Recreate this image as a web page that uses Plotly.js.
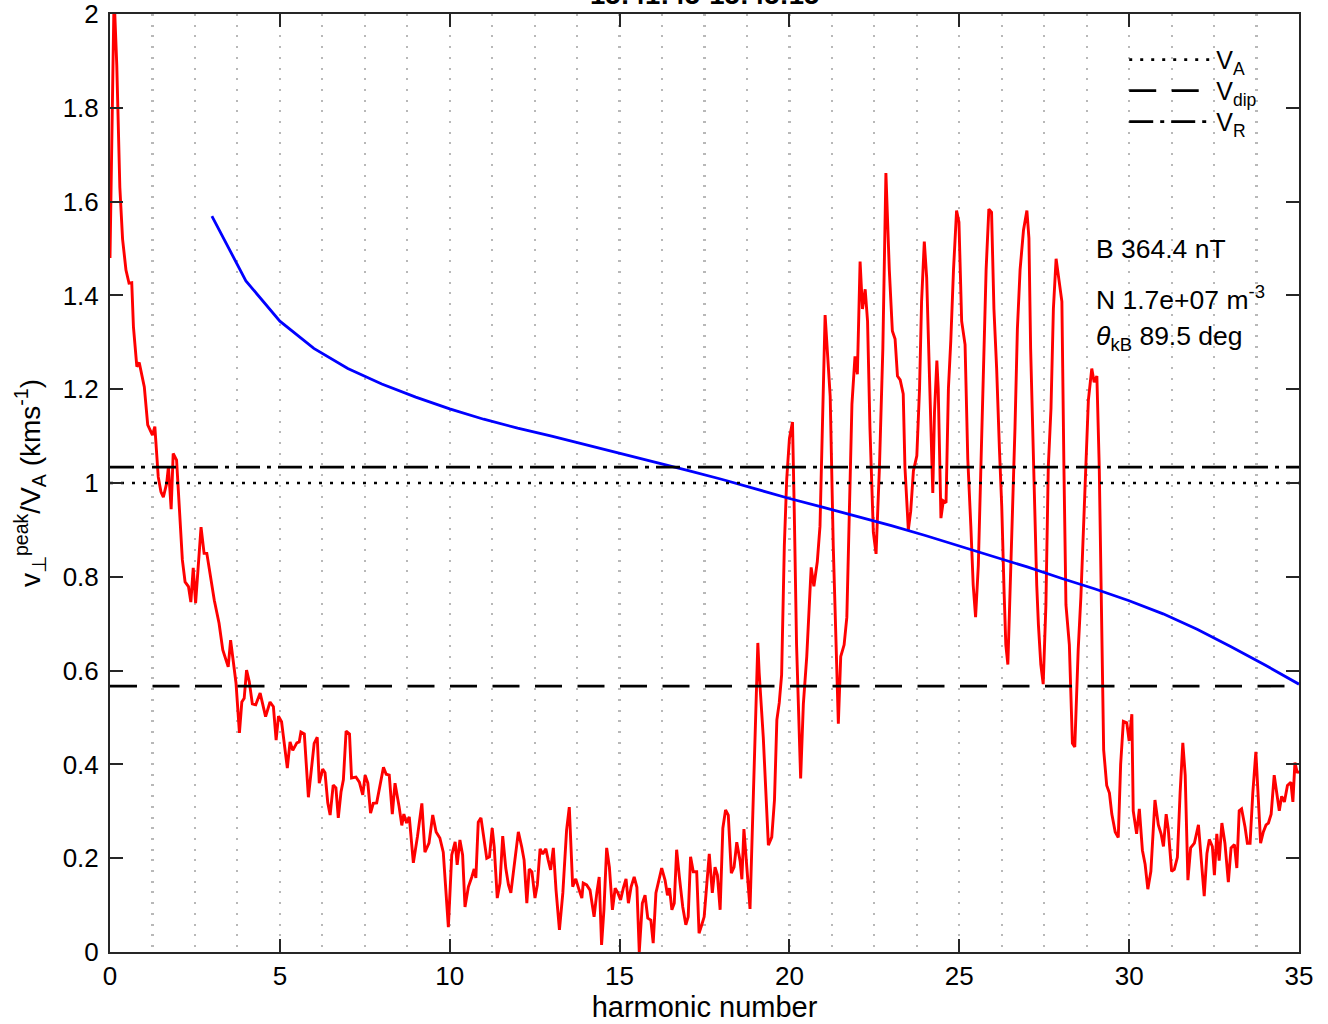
<!DOCTYPE html>
<html>
<head>
<meta charset="utf-8">
<script src="https://cdn.plot.ly/plotly-3.0.1.min.js"></script>
<style>html,body{margin:0;padding:0;background:#fff;}</style>
</head>
<body>
<div id="chart" style="width:1328px;height:1024px;"></div>
<script>
// ---- data ----
const harmonicRed = [0.0,0.12,0.2,0.29,0.37,0.47,0.56,0.64,0.69,0.79,0.86,1.01,1.11,1.25,1.32,1.42,1.50,1.57,1.67,1.72,1.80,1.86,1.96,2.06,2.13,2.21,2.31,2.38,2.45,2.52,2.68,2.77,2.85,3.07,3.21,3.32,3.48,3.55,3.71,3.81,3.88,3.95,4.02,4.10,4.19,4.29,4.42,4.58,4.71,4.81,4.89,4.96,5.05,5.22,5.30,5.38,5.50,5.57,5.62,5.72,5.84,6.01,6.10,6.16,6.26,6.33,6.41,6.48,6.57,6.65,6.72,6.80,6.87,6.95,7.05,7.11,7.24,7.34,7.44,7.51,7.59,7.67,7.75,7.85,8.05,8.13,8.22,8.31,8.39,8.51,8.59,8.65,8.73,8.81,8.93,9.05,9.18,9.27,9.39,9.50,9.60,9.71,9.81,9.96,10.06,10.16,10.22,10.30,10.38,10.45,10.55,10.65,10.72,10.77,10.84,10.92,11.01,11.09,11.17,11.25,11.31,11.40,11.48,11.56,11.65,11.73,11.80,11.90,12.02,12.12,12.19,12.27,12.34,12.42,12.51,12.58,12.66,12.74,12.83,12.90,12.97,13.05,13.13,13.23,13.33,13.44,13.52,13.62,13.71,13.81,13.89,13.93,14.03,14.13,14.25,14.33,14.40,14.47,14.54,14.62,14.70,14.79,14.87,14.95,15.03,15.11,15.19,15.26,15.34,15.43,15.51,15.58,15.67,15.75,15.83,15.92,15.99,16.07,16.17,16.24,16.34,16.41,16.47,16.54,16.61,16.68,16.76,16.86,16.95,17.02,17.09,17.17,17.27,17.34,17.42,17.49,17.57,17.64,17.73,17.81,17.88,17.96,18.04,18.12,18.20,18.29,18.37,18.45,18.55,18.60,18.66,18.74,18.84,18.94,19.07,19.11,19.23,19.38,19.48,19.56,19.63,19.70,19.77,19.85,19.92,20.00,20.09,20.14,20.21,20.33,20.41,20.51,20.64,20.72,20.82,20.90,20.98,21.05,21.20,21.29,21.39,21.44,21.51,21.61,21.69,21.76,21.84,21.93,22.00,22.08,22.15,22.23,22.30,22.37,22.47,22.55,22.65,22.75,22.84,22.94,23.03,23.11,23.18,23.26,23.35,23.40,23.45,23.50,23.57,23.65,23.75,23.83,23.89,23.97,24.04,24.11,24.16,24.22,24.27,24.34,24.38,24.43,24.46,24.53,24.61,24.68,24.75,24.83,24.92,24.99,25.07,25.17,25.25,25.34,25.41,25.48,25.56,25.63,25.71,25.79,25.87,25.95,26.02,26.10,26.18,26.25,26.32,26.37,26.43,26.49,26.57,26.64,26.71,26.79,26.89,26.99,27.05,27.10,27.18,27.28,27.33,27.40,27.47,27.55,27.62,27.70,27.77,27.85,27.94,28.02,28.08,28.14,28.24,28.33,28.40,28.50,28.58,28.65,28.72,28.80,28.90,28.97,29.05,29.12,29.17,29.21,29.25,29.34,29.42,29.49,29.59,29.68,29.75,29.83,29.93,30.00,30.08,30.12,30.22,30.30,30.39,30.47,30.55,30.64,30.76,30.86,30.94,31.01,31.09,31.15,31.25,31.33,31.42,31.50,31.58,31.65,31.73,31.81,31.92,32.04,32.12,32.21,32.29,32.36,32.45,32.51,32.58,32.65,32.73,32.82,32.92,33.00,33.10,33.17,33.24,33.31,33.41,33.48,33.56,33.64,33.73,33.80,33.87,33.95,34.03,34.10,34.18,34.27,34.35,34.42,34.49,34.57,34.66,34.76,34.82,34.88,34.95,35.00];
const vPeakRatio = [1.48,2.04,1.89,1.63,1.52,1.454,1.426,1.427,1.333,1.248,1.257,1.205,1.124,1.102,1.12,1.013,0.981,0.970,1.0,1.035,0.944,1.063,1.049,0.935,0.836,0.789,0.779,0.746,0.819,0.744,0.906,0.85,0.85,0.75,0.701,0.644,0.608,0.665,0.573,0.467,0.533,0.541,0.601,0.576,0.529,0.527,0.552,0.502,0.533,0.523,0.452,0.503,0.491,0.392,0.448,0.43,0.446,0.448,0.469,0.465,0.33,0.445,0.458,0.36,0.39,0.382,0.318,0.292,0.356,0.35,0.286,0.341,0.367,0.471,0.465,0.371,0.373,0.362,0.335,0.377,0.36,0.296,0.317,0.318,0.394,0.379,0.377,0.294,0.36,0.31,0.27,0.294,0.275,0.288,0.19,0.246,0.317,0.213,0.232,0.292,0.256,0.243,0.213,0.053,0.207,0.235,0.186,0.239,0.207,0.096,0.139,0.16,0.177,0.158,0.277,0.286,0.235,0.2,0.203,0.264,0.224,0.115,0.147,0.247,0.179,0.143,0.126,0.181,0.256,0.224,0.196,0.104,0.177,0.171,0.115,0.143,0.22,0.209,0.22,0.196,0.175,0.222,0.132,0.047,0.126,0.26,0.309,0.139,0.156,0.132,0.115,0.147,0.143,0.132,0.075,0.126,0.16,0.015,0.09,0.222,0.181,0.09,0.136,0.126,0.111,0.136,0.156,0.104,0.139,0.16,0.138,0.0,0.104,0.121,0.072,0.068,0.019,0.126,0.16,0.179,0.153,0.121,0.136,0.09,0.104,0.218,0.16,0.096,0.058,0.075,0.203,0.171,0.171,0.04,0.058,0.075,0.147,0.209,0.126,0.181,0.164,0.09,0.264,0.303,0.292,0.168,0.181,0.234,0.193,0.155,0.262,0.194,0.092,0.339,0.659,0.595,0.458,0.228,0.245,0.324,0.495,0.531,0.591,0.866,1.008,1.095,1.13,0.95,0.655,0.37,0.529,0.63,0.82,0.78,0.832,0.908,1.118,1.358,1.185,0.866,0.614,0.487,0.63,0.655,0.714,0.95,1.168,1.27,1.232,1.472,1.371,1.413,1.345,1.118,0.895,0.849,1.034,1.287,1.661,1.455,1.324,1.307,1.228,1.22,1.19,1.034,0.95,0.9,0.94,1.026,1.058,1.201,1.387,1.515,1.438,1.244,1.118,0.979,1.151,1.261,1.201,1.034,0.925,0.962,0.958,1.201,1.303,1.455,1.581,1.556,1.345,1.295,1.051,0.908,0.782,0.714,0.824,1.017,1.27,1.455,1.584,1.577,1.371,1.244,1.076,0.95,0.765,0.655,0.613,0.74,0.95,1.118,1.328,1.455,1.539,1.581,1.522,1.287,1.034,0.782,0.697,0.613,0.571,0.74,1.034,1.16,1.371,1.478,1.43,1.387,1.034,0.74,0.655,0.445,0.437,0.644,0.758,0.91,1.025,1.177,1.244,1.215,1.228,1.034,0.774,0.568,0.431,0.355,0.339,0.294,0.256,0.244,0.4,0.492,0.489,0.45,0.507,0.301,0.252,0.305,0.217,0.187,0.134,0.172,0.324,0.271,0.252,0.225,0.294,0.263,0.172,0.176,0.202,0.339,0.446,0.377,0.153,0.222,0.232,0.271,0.195,0.119,0.21,0.24,0.225,0.164,0.252,0.195,0.275,0.232,0.149,0.222,0.229,0.179,0.301,0.305,0.267,0.232,0.232,0.339,0.427,0.339,0.232,0.256,0.271,0.275,0.294,0.377,0.332,0.301,0.332,0.32,0.355,0.362,0.32,0.404,0.382,0.386];

const harmonicBlue = [3,4,5,6,7,8,9,10,11,12,13,14,15,16,17,18,19,20,21,22,23,24,25,26,27,28,29,30,31,32,33,34,35];
const vModel = [1.569,1.431,1.345,1.287,1.244,1.211,1.183,1.158,1.136,1.117,1.100,1.082,1.063,1.045,1.027,1.008,0.987,0.967,0.948,0.929,0.909,0.888,0.866,0.844,0.821,0.797,0.774,0.749,0.721,0.688,0.651,0.612,0.571];

const xRange = [0, 35];
const yRange = [0, 2];
const xTicks = [0, 5, 10, 15, 20, 25, 30, 35];
const yTicks = [0, 0.2, 0.4, 0.6, 0.8, 1, 1.2, 1.4, 1.6, 1.8, 2];
const yTickText = ['0', '0.2', '0.4', '0.6', '0.8', '1', '1.2', '1.4', '1.6', '1.8', '2'];
const V_A = 1.0;
const V_dip = 0.567;
const V_R = 1.034;

const legendNames = ['V<sub>A</sub>', 'V<sub>dip</sub>', 'V<sub>R</sub>'];
const titleText = '15:41:45-15:45:15';
const infoLines = ['B 364.4 nT', 'N 1.7e+07 m<sup>-3</sup>', '<i>θ</i><sub>kB</sub> 89.5 deg'];
const xTitle = 'harmonic number';
const yTitle = 'v<sub>⊥</sub><sup>peak</sup>/V<sub>A</sub> (kms<sup>-1</sup>)';

// ---- figure ----
const FONT = 'Arial, "Liberation Sans", Helvetica, sans-serif';
const ink = '#262626';
const gridStyle = {color: '#b8b8b8', dash: '2px,8.7px', width: 2.2};

const traces = [
  {x: harmonicRed, y: vPeakRatio, type: 'scatter', mode: 'lines',
   line: {color: '#ff0000', width: 2.9}, showlegend: false, hoverinfo: 'skip'},
  {x: harmonicBlue, y: vModel, type: 'scatter', mode: 'lines',
   line: {color: '#0000ff', width: 2.8}, showlegend: false, hoverinfo: 'skip'},
  {x: xRange, y: [V_A, V_A], type: 'scatter', mode: 'lines', name: legendNames[0],
   legend: 'legend', line: {color: '#000', width: 2.7, dash: '3px,8px'}},
  {x: xRange, y: [V_dip, V_dip], type: 'scatter', mode: 'lines', name: legendNames[1],
   legend: 'legend2', line: {color: '#000', width: 2.7, dash: '27px,15.5px'}},
  {x: xRange, y: [V_R, V_R], type: 'scatter', mode: 'lines', name: legendNames[2],
   legend: 'legend3', line: {color: '#000', width: 2.7, dash: '24px,7px,4px,7px'}}
];

const axisCommon = {
  ticks: 'inside', ticklen: 13, tickwidth: 2, tickcolor: ink,
  showline: true, linecolor: ink, linewidth: 2, mirror: 'allticks',
  zeroline: false, ticklabeloverflow: 'allow',
  tickfont: {family: FONT, size: 26, color: '#000'}
};

const infoY = [0.7495, 0.697, 0.655];
const annotations = infoLines.map((t, i) => ({
  text: t, xref: 'paper', yref: 'paper', x: 0.828, y: infoY[i],
  xanchor: 'left', yanchor: 'middle', showarrow: false,
  font: {family: FONT, size: 26.5, color: '#000'}
}));
annotations.push({
  text: '<b>' + titleText + '</b>', xref: 'paper', yref: 'paper', x: 0.5, y: 1,
  xanchor: 'center', yanchor: 'bottom', yshift: 2, showarrow: false,
  font: {family: FONT, size: 27.5, color: '#000'}
});

const legendBase = {x: 0.853, xanchor: 'left', yanchor: 'middle',
  bgcolor: 'rgba(0,0,0,0)', borderwidth: 0, itemwidth: 82,
  font: {family: FONT, size: 25, color: '#000'}};

const layout = {
  width: 1328, height: 1024,
  margin: {l: 110, r: 29, t: 14, b: 72},
  paper_bgcolor: '#fff', plot_bgcolor: '#fff',
  showlegend: true,
  legend: Object.assign({}, legendBase, {y: 0.951}),
  legend2: Object.assign({}, legendBase, {y: 0.918}),
  legend3: Object.assign({}, legendBase, {y: 0.885}),
  xaxis: Object.assign({}, axisCommon, {
    range: xRange, tickmode: 'array', tickvals: xTicks,
    showgrid: true, gridcolor: gridStyle.color, griddash: gridStyle.dash, gridwidth: gridStyle.width,
    minor: {dtick: 1.25, tick0: 0, showgrid: true, gridcolor: gridStyle.color, griddash: gridStyle.dash, gridwidth: gridStyle.width, ticks: ''},
    ticklabelstandoff: 0,
    title: {text: xTitle, font: {family: FONT, size: 29, color: '#000'}, standoff: 0}
  }),
  yaxis: Object.assign({}, axisCommon, {
    range: yRange, tickmode: 'array', tickvals: yTicks, ticktext: yTickText, showgrid: false,
    ticklabelstandoff: 4,
    title: {text: yTitle, font: {family: FONT, size: 28, color: '#000'}, standoff: 14}
  }),
  annotations: annotations,
  hovermode: false
};

Plotly.newPlot('chart', traces, layout, {staticPlot: true, displayModeBar: false});
</script>
</body>
</html>
